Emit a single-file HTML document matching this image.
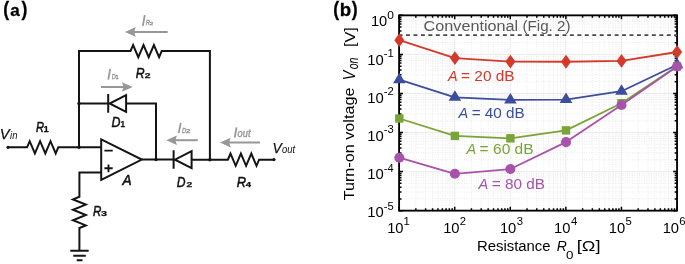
<!DOCTYPE html>
<html><head><meta charset="utf-8"><style>
html,body{margin:0;padding:0;background:#fff;}
svg{display:block;will-change:transform;}
text{font-family:"Liberation Sans",sans-serif;}
.gm{stroke:#e3e3e3;stroke-width:0.8;stroke-dasharray:0.9 1.5;}
.gM{stroke:#ebebeb;stroke-width:1;}
</style></head><body>
<svg width="685" height="264" viewBox="0 0 685 264">
<line x1="415.83" y1="15.35" x2="415.83" y2="210.65" class="gm"/>
<line x1="425.62" y1="15.35" x2="425.62" y2="210.65" class="gm"/>
<line x1="432.57" y1="15.35" x2="432.57" y2="210.65" class="gm"/>
<line x1="437.96" y1="15.35" x2="437.96" y2="210.65" class="gm"/>
<line x1="442.36" y1="15.35" x2="442.36" y2="210.65" class="gm"/>
<line x1="446.08" y1="15.35" x2="446.08" y2="210.65" class="gm"/>
<line x1="449.30" y1="15.35" x2="449.30" y2="210.65" class="gm"/>
<line x1="452.15" y1="15.35" x2="452.15" y2="210.65" class="gm"/>
<line x1="471.42" y1="15.35" x2="471.42" y2="210.65" class="gm"/>
<line x1="481.21" y1="15.35" x2="481.21" y2="210.65" class="gm"/>
<line x1="488.16" y1="15.35" x2="488.16" y2="210.65" class="gm"/>
<line x1="493.55" y1="15.35" x2="493.55" y2="210.65" class="gm"/>
<line x1="497.95" y1="15.35" x2="497.95" y2="210.65" class="gm"/>
<line x1="501.67" y1="15.35" x2="501.67" y2="210.65" class="gm"/>
<line x1="504.89" y1="15.35" x2="504.89" y2="210.65" class="gm"/>
<line x1="507.74" y1="15.35" x2="507.74" y2="210.65" class="gm"/>
<line x1="527.01" y1="15.35" x2="527.01" y2="210.65" class="gm"/>
<line x1="536.80" y1="15.35" x2="536.80" y2="210.65" class="gm"/>
<line x1="543.75" y1="15.35" x2="543.75" y2="210.65" class="gm"/>
<line x1="549.14" y1="15.35" x2="549.14" y2="210.65" class="gm"/>
<line x1="553.54" y1="15.35" x2="553.54" y2="210.65" class="gm"/>
<line x1="557.26" y1="15.35" x2="557.26" y2="210.65" class="gm"/>
<line x1="560.48" y1="15.35" x2="560.48" y2="210.65" class="gm"/>
<line x1="563.33" y1="15.35" x2="563.33" y2="210.65" class="gm"/>
<line x1="582.60" y1="15.35" x2="582.60" y2="210.65" class="gm"/>
<line x1="592.39" y1="15.35" x2="592.39" y2="210.65" class="gm"/>
<line x1="599.34" y1="15.35" x2="599.34" y2="210.65" class="gm"/>
<line x1="604.73" y1="15.35" x2="604.73" y2="210.65" class="gm"/>
<line x1="609.13" y1="15.35" x2="609.13" y2="210.65" class="gm"/>
<line x1="612.85" y1="15.35" x2="612.85" y2="210.65" class="gm"/>
<line x1="616.07" y1="15.35" x2="616.07" y2="210.65" class="gm"/>
<line x1="618.92" y1="15.35" x2="618.92" y2="210.65" class="gm"/>
<line x1="638.19" y1="15.35" x2="638.19" y2="210.65" class="gm"/>
<line x1="647.98" y1="15.35" x2="647.98" y2="210.65" class="gm"/>
<line x1="654.93" y1="15.35" x2="654.93" y2="210.65" class="gm"/>
<line x1="660.32" y1="15.35" x2="660.32" y2="210.65" class="gm"/>
<line x1="664.72" y1="15.35" x2="664.72" y2="210.65" class="gm"/>
<line x1="668.44" y1="15.35" x2="668.44" y2="210.65" class="gm"/>
<line x1="671.66" y1="15.35" x2="671.66" y2="210.65" class="gm"/>
<line x1="674.51" y1="15.35" x2="674.51" y2="210.65" class="gm"/>
<line x1="399.1" y1="42.65" x2="677.05" y2="42.65" class="gm"/>
<line x1="399.1" y1="35.77" x2="677.05" y2="35.77" class="gm"/>
<line x1="399.1" y1="30.89" x2="677.05" y2="30.89" class="gm"/>
<line x1="399.1" y1="27.11" x2="677.05" y2="27.11" class="gm"/>
<line x1="399.1" y1="24.02" x2="677.05" y2="24.02" class="gm"/>
<line x1="399.1" y1="21.40" x2="677.05" y2="21.40" class="gm"/>
<line x1="399.1" y1="19.14" x2="677.05" y2="19.14" class="gm"/>
<line x1="399.1" y1="17.14" x2="677.05" y2="17.14" class="gm"/>
<line x1="399.1" y1="81.71" x2="677.05" y2="81.71" class="gm"/>
<line x1="399.1" y1="74.83" x2="677.05" y2="74.83" class="gm"/>
<line x1="399.1" y1="69.95" x2="677.05" y2="69.95" class="gm"/>
<line x1="399.1" y1="66.17" x2="677.05" y2="66.17" class="gm"/>
<line x1="399.1" y1="63.08" x2="677.05" y2="63.08" class="gm"/>
<line x1="399.1" y1="60.46" x2="677.05" y2="60.46" class="gm"/>
<line x1="399.1" y1="58.20" x2="677.05" y2="58.20" class="gm"/>
<line x1="399.1" y1="56.20" x2="677.05" y2="56.20" class="gm"/>
<line x1="399.1" y1="120.77" x2="677.05" y2="120.77" class="gm"/>
<line x1="399.1" y1="113.89" x2="677.05" y2="113.89" class="gm"/>
<line x1="399.1" y1="109.01" x2="677.05" y2="109.01" class="gm"/>
<line x1="399.1" y1="105.23" x2="677.05" y2="105.23" class="gm"/>
<line x1="399.1" y1="102.14" x2="677.05" y2="102.14" class="gm"/>
<line x1="399.1" y1="99.52" x2="677.05" y2="99.52" class="gm"/>
<line x1="399.1" y1="97.26" x2="677.05" y2="97.26" class="gm"/>
<line x1="399.1" y1="95.26" x2="677.05" y2="95.26" class="gm"/>
<line x1="399.1" y1="159.83" x2="677.05" y2="159.83" class="gm"/>
<line x1="399.1" y1="152.95" x2="677.05" y2="152.95" class="gm"/>
<line x1="399.1" y1="148.07" x2="677.05" y2="148.07" class="gm"/>
<line x1="399.1" y1="144.29" x2="677.05" y2="144.29" class="gm"/>
<line x1="399.1" y1="141.20" x2="677.05" y2="141.20" class="gm"/>
<line x1="399.1" y1="138.58" x2="677.05" y2="138.58" class="gm"/>
<line x1="399.1" y1="136.32" x2="677.05" y2="136.32" class="gm"/>
<line x1="399.1" y1="134.32" x2="677.05" y2="134.32" class="gm"/>
<line x1="399.1" y1="198.89" x2="677.05" y2="198.89" class="gm"/>
<line x1="399.1" y1="192.01" x2="677.05" y2="192.01" class="gm"/>
<line x1="399.1" y1="187.13" x2="677.05" y2="187.13" class="gm"/>
<line x1="399.1" y1="183.35" x2="677.05" y2="183.35" class="gm"/>
<line x1="399.1" y1="180.26" x2="677.05" y2="180.26" class="gm"/>
<line x1="399.1" y1="177.64" x2="677.05" y2="177.64" class="gm"/>
<line x1="399.1" y1="175.38" x2="677.05" y2="175.38" class="gm"/>
<line x1="399.1" y1="173.38" x2="677.05" y2="173.38" class="gm"/>
<line x1="454.69" y1="15.35" x2="454.69" y2="210.65" class="gM"/>
<line x1="510.28" y1="15.35" x2="510.28" y2="210.65" class="gM"/>
<line x1="565.87" y1="15.35" x2="565.87" y2="210.65" class="gM"/>
<line x1="621.46" y1="15.35" x2="621.46" y2="210.65" class="gM"/>
<line x1="399.1" y1="54.41" x2="677.05" y2="54.41" class="gM"/>
<line x1="399.1" y1="93.47" x2="677.05" y2="93.47" class="gM"/>
<line x1="399.1" y1="132.53" x2="677.05" y2="132.53" class="gM"/>
<line x1="399.1" y1="171.59" x2="677.05" y2="171.59" class="gM"/>
<path d="M399.10,210.65v-3.9M399.10,15.35v3.9M415.83,210.65v-2.4M415.83,15.35v2.4M425.62,210.65v-2.4M425.62,15.35v2.4M432.57,210.65v-2.4M432.57,15.35v2.4M437.96,210.65v-2.4M437.96,15.35v2.4M442.36,210.65v-2.4M442.36,15.35v2.4M446.08,210.65v-2.4M446.08,15.35v2.4M449.30,210.65v-2.4M449.30,15.35v2.4M452.15,210.65v-2.4M452.15,15.35v2.4M454.69,210.65v-3.9M454.69,15.35v3.9M471.42,210.65v-2.4M471.42,15.35v2.4M481.21,210.65v-2.4M481.21,15.35v2.4M488.16,210.65v-2.4M488.16,15.35v2.4M493.55,210.65v-2.4M493.55,15.35v2.4M497.95,210.65v-2.4M497.95,15.35v2.4M501.67,210.65v-2.4M501.67,15.35v2.4M504.89,210.65v-2.4M504.89,15.35v2.4M507.74,210.65v-2.4M507.74,15.35v2.4M510.28,210.65v-3.9M510.28,15.35v3.9M527.01,210.65v-2.4M527.01,15.35v2.4M536.80,210.65v-2.4M536.80,15.35v2.4M543.75,210.65v-2.4M543.75,15.35v2.4M549.14,210.65v-2.4M549.14,15.35v2.4M553.54,210.65v-2.4M553.54,15.35v2.4M557.26,210.65v-2.4M557.26,15.35v2.4M560.48,210.65v-2.4M560.48,15.35v2.4M563.33,210.65v-2.4M563.33,15.35v2.4M565.87,210.65v-3.9M565.87,15.35v3.9M582.60,210.65v-2.4M582.60,15.35v2.4M592.39,210.65v-2.4M592.39,15.35v2.4M599.34,210.65v-2.4M599.34,15.35v2.4M604.73,210.65v-2.4M604.73,15.35v2.4M609.13,210.65v-2.4M609.13,15.35v2.4M612.85,210.65v-2.4M612.85,15.35v2.4M616.07,210.65v-2.4M616.07,15.35v2.4M618.92,210.65v-2.4M618.92,15.35v2.4M621.46,210.65v-3.9M621.46,15.35v3.9M638.19,210.65v-2.4M638.19,15.35v2.4M647.98,210.65v-2.4M647.98,15.35v2.4M654.93,210.65v-2.4M654.93,15.35v2.4M660.32,210.65v-2.4M660.32,15.35v2.4M664.72,210.65v-2.4M664.72,15.35v2.4M668.44,210.65v-2.4M668.44,15.35v2.4M671.66,210.65v-2.4M671.66,15.35v2.4M674.51,210.65v-2.4M674.51,15.35v2.4M677.05,210.65v-3.9M677.05,15.35v3.9M399.1,210.65h3.9M677.05,210.65h-3.9M399.1,198.89h2.4M677.05,198.89h-2.4M399.1,192.01h2.4M677.05,192.01h-2.4M399.1,187.13h2.4M677.05,187.13h-2.4M399.1,183.35h2.4M677.05,183.35h-2.4M399.1,180.26h2.4M677.05,180.26h-2.4M399.1,177.64h2.4M677.05,177.64h-2.4M399.1,175.38h2.4M677.05,175.38h-2.4M399.1,173.38h2.4M677.05,173.38h-2.4M399.1,171.59h3.9M677.05,171.59h-3.9M399.1,159.83h2.4M677.05,159.83h-2.4M399.1,152.95h2.4M677.05,152.95h-2.4M399.1,148.07h2.4M677.05,148.07h-2.4M399.1,144.29h2.4M677.05,144.29h-2.4M399.1,141.20h2.4M677.05,141.20h-2.4M399.1,138.58h2.4M677.05,138.58h-2.4M399.1,136.32h2.4M677.05,136.32h-2.4M399.1,134.32h2.4M677.05,134.32h-2.4M399.1,132.53h3.9M677.05,132.53h-3.9M399.1,120.77h2.4M677.05,120.77h-2.4M399.1,113.89h2.4M677.05,113.89h-2.4M399.1,109.01h2.4M677.05,109.01h-2.4M399.1,105.23h2.4M677.05,105.23h-2.4M399.1,102.14h2.4M677.05,102.14h-2.4M399.1,99.52h2.4M677.05,99.52h-2.4M399.1,97.26h2.4M677.05,97.26h-2.4M399.1,95.26h2.4M677.05,95.26h-2.4M399.1,93.47h3.9M677.05,93.47h-3.9M399.1,81.71h2.4M677.05,81.71h-2.4M399.1,74.83h2.4M677.05,74.83h-2.4M399.1,69.95h2.4M677.05,69.95h-2.4M399.1,66.17h2.4M677.05,66.17h-2.4M399.1,63.08h2.4M677.05,63.08h-2.4M399.1,60.46h2.4M677.05,60.46h-2.4M399.1,58.20h2.4M677.05,58.20h-2.4M399.1,56.20h2.4M677.05,56.20h-2.4M399.1,54.41h3.9M677.05,54.41h-3.9M399.1,42.65h2.4M677.05,42.65h-2.4M399.1,35.77h2.4M677.05,35.77h-2.4M399.1,30.89h2.4M677.05,30.89h-2.4M399.1,27.11h2.4M677.05,27.11h-2.4M399.1,24.02h2.4M677.05,24.02h-2.4M399.1,21.40h2.4M677.05,21.40h-2.4M399.1,19.14h2.4M677.05,19.14h-2.4M399.1,17.14h2.4M677.05,17.14h-2.4M399.1,15.35h3.9M677.05,15.35h-3.9" stroke="#000" stroke-width="1.5" fill="none"/>
<rect x="399.1" y="15.35" width="277.95" height="195.30" fill="none" stroke="#000" stroke-width="1.85"/>
<line x1="399.1" y1="35.1" x2="677.05" y2="35.1" stroke="#4a4a4a" stroke-width="1.7" stroke-dasharray="3.9 3.55" stroke-dashoffset="0.5"/>
<polyline points="399.30,40.20 454.90,58.10 510.40,61.60 566.00,61.75 621.50,60.90 677.10,52.00" fill="none" stroke="#d5392a" stroke-width="1.8" stroke-linejoin="round"/>
<g fill="#d5392a"><path d="M399.30,33.30L404.30,40.20L399.30,47.10L394.30,40.20Z"/><path d="M454.90,51.20L459.90,58.10L454.90,65.00L449.90,58.10Z"/><path d="M510.40,54.70L515.40,61.60L510.40,68.50L505.40,61.60Z"/><path d="M566.00,54.85L571.00,61.75L566.00,68.65L561.00,61.75Z"/><path d="M621.50,54.00L626.50,60.90L621.50,67.80L616.50,60.90Z"/><path d="M677.10,45.10L682.10,52.00L677.10,58.90L672.10,52.00Z"/></g>
<polyline points="399.30,79.70 454.90,97.30 510.40,99.90 566.00,99.60 621.50,91.20 677.10,64.80" fill="none" stroke="#3b4d9d" stroke-width="1.8" stroke-linejoin="round"/>
<g fill="#3b4d9d"><path d="M399.30,72.70L405.60,83.20L393.00,83.20Z"/><path d="M454.90,90.30L461.20,100.80L448.60,100.80Z"/><path d="M510.40,92.90L516.70,103.40L504.10,103.40Z"/><path d="M566.00,92.60L572.30,103.10L559.70,103.10Z"/><path d="M621.50,84.20L627.80,94.70L615.20,94.70Z"/><path d="M677.10,57.80L683.40,68.30L670.80,68.30Z"/></g>
<polyline points="399.30,118.50 454.90,135.90 510.40,138.30 566.00,130.40 621.50,103.20 677.10,66.30" fill="none" stroke="#79a437" stroke-width="1.8" stroke-linejoin="round"/>
<g fill="#79a437"><rect x="395.10" y="114.30" width="8.4" height="8.4"/><rect x="450.70" y="131.70" width="8.4" height="8.4"/><rect x="506.20" y="134.10" width="8.4" height="8.4"/><rect x="561.80" y="126.20" width="8.4" height="8.4"/><rect x="617.30" y="99.00" width="8.4" height="8.4"/><rect x="672.90" y="62.10" width="8.4" height="8.4"/></g>
<polyline points="399.30,157.70 454.90,173.80 510.40,169.00 566.00,142.10 621.50,105.00 677.10,66.50" fill="none" stroke="#a952ac" stroke-width="1.8" stroke-linejoin="round"/>
<g fill="#a952ac"><circle cx="399.30" cy="157.70" r="5.05"/><circle cx="454.90" cy="173.80" r="5.05"/><circle cx="510.40" cy="169.00" r="5.05"/><circle cx="566.00" cy="142.10" r="5.05"/><circle cx="621.50" cy="105.00" r="5.05"/><circle cx="677.10" cy="66.50" r="5.05"/></g>
<text x="447.91" y="81.10" font-size="15.41" font-style="italic" textLength="9.66" lengthAdjust="spacingAndGlyphs" fill="#d5392a" xml:space="preserve">A</text><text x="461.05" y="80.95" font-size="15.41" textLength="53.57" lengthAdjust="spacingAndGlyphs" fill="#d5392a" xml:space="preserve">= 20 dB</text>
<text x="458.51" y="117.80" font-size="15.41" font-style="italic" textLength="9.66" lengthAdjust="spacingAndGlyphs" fill="#3b4d9d" xml:space="preserve">A</text><text x="471.65" y="117.65" font-size="15.41" textLength="53.15" lengthAdjust="spacingAndGlyphs" fill="#3b4d9d" xml:space="preserve">= 40 dB</text>
<text x="466.51" y="154.20" font-size="15.41" font-style="italic" textLength="9.66" lengthAdjust="spacingAndGlyphs" fill="#79a437" xml:space="preserve">A</text><text x="479.64" y="154.05" font-size="15.41" textLength="53.98" lengthAdjust="spacingAndGlyphs" fill="#79a437" xml:space="preserve">= 60 dB</text>
<text x="478.61" y="189.00" font-size="15.41" font-style="italic" textLength="9.66" lengthAdjust="spacingAndGlyphs" fill="#a952ac" xml:space="preserve">A</text><text x="491.75" y="188.85" font-size="15.41" textLength="53.26" lengthAdjust="spacingAndGlyphs" fill="#a952ac" xml:space="preserve">= 80 dB</text>
<text x="370.88" y="26.46" font-size="14.70" textLength="16.29" lengthAdjust="spacingAndGlyphs" fill="#000" xml:space="preserve">10</text>
<text x="387.23" y="18.79" font-size="11.30" textLength="6.63" lengthAdjust="spacingAndGlyphs" fill="#000" xml:space="preserve">0</text>
<text x="367.17" y="64.66" font-size="14.70" textLength="16.51" lengthAdjust="spacingAndGlyphs" fill="#000" xml:space="preserve">10</text>
<text x="383.70" y="57.10" font-size="11.30" textLength="10.05" lengthAdjust="spacingAndGlyphs" fill="#000" xml:space="preserve">-1</text>
<text x="367.17" y="102.86" font-size="14.70" textLength="16.51" lengthAdjust="spacingAndGlyphs" fill="#000" xml:space="preserve">10</text>
<text x="383.70" y="95.30" font-size="11.30" textLength="10.07" lengthAdjust="spacingAndGlyphs" fill="#000" xml:space="preserve">-2</text>
<text x="367.17" y="141.06" font-size="14.70" textLength="16.51" lengthAdjust="spacingAndGlyphs" fill="#000" xml:space="preserve">10</text>
<text x="383.70" y="133.39" font-size="11.30" textLength="9.99" lengthAdjust="spacingAndGlyphs" fill="#000" xml:space="preserve">-3</text>
<text x="367.17" y="179.26" font-size="14.70" textLength="16.51" lengthAdjust="spacingAndGlyphs" fill="#000" xml:space="preserve">10</text>
<text x="383.71" y="171.70" font-size="11.30" textLength="9.81" lengthAdjust="spacingAndGlyphs" fill="#000" xml:space="preserve">-4</text>
<text x="367.17" y="217.46" font-size="14.70" textLength="16.51" lengthAdjust="spacingAndGlyphs" fill="#000" xml:space="preserve">10</text>
<text x="383.70" y="209.79" font-size="11.30" textLength="9.97" lengthAdjust="spacingAndGlyphs" fill="#000" xml:space="preserve">-5</text>
<text x="387.18" y="232.66" font-size="14.70" textLength="16.40" lengthAdjust="spacingAndGlyphs" fill="#000" xml:space="preserve">10</text>
<text x="403.54" y="224.80" font-size="11.30" fill="#000" xml:space="preserve">1</text>
<text x="443.18" y="232.66" font-size="14.70" textLength="16.40" lengthAdjust="spacingAndGlyphs" fill="#000" xml:space="preserve">10</text>
<text x="459.83" y="224.80" font-size="11.30" fill="#000" xml:space="preserve">2</text>
<text x="499.88" y="232.66" font-size="14.70" textLength="16.40" lengthAdjust="spacingAndGlyphs" fill="#000" xml:space="preserve">10</text>
<text x="516.67" y="224.69" font-size="11.30" fill="#000" xml:space="preserve">3</text>
<text x="554.08" y="232.66" font-size="14.70" textLength="16.40" lengthAdjust="spacingAndGlyphs" fill="#000" xml:space="preserve">10</text>
<text x="571.04" y="224.80" font-size="11.30" fill="#000" xml:space="preserve">4</text>
<text x="608.78" y="232.66" font-size="14.70" textLength="16.40" lengthAdjust="spacingAndGlyphs" fill="#000" xml:space="preserve">10</text>
<text x="625.55" y="224.69" font-size="11.30" fill="#000" xml:space="preserve">5</text>
<text x="662.68" y="232.66" font-size="14.70" textLength="16.40" lengthAdjust="spacingAndGlyphs" fill="#000" xml:space="preserve">10</text>
<text x="679.33" y="224.69" font-size="11.30" fill="#000" xml:space="preserve">6</text>
<text x="476.98" y="250.75" font-size="15.50" textLength="73.58" lengthAdjust="spacingAndGlyphs" fill="#000" xml:space="preserve">Resistance</text>
<text x="556.67" y="250.90" font-size="15.50" font-style="italic" textLength="10.06" lengthAdjust="spacingAndGlyphs" fill="#000" xml:space="preserve">R</text>
<text x="566.08" y="258.79" font-size="11.30" textLength="7.45" lengthAdjust="spacingAndGlyphs" fill="#000" xml:space="preserve">0</text>
<text x="576.70" y="250.51" font-size="15.50" textLength="23.80" lengthAdjust="spacingAndGlyphs" fill="#000" xml:space="preserve">[Ω]</text>
<text transform="translate(354.40,200.36) rotate(-90)" font-size="15.1" textLength="112.78" lengthAdjust="spacingAndGlyphs" fill="#000">Turn-on voltage</text>
<text transform="translate(354.60,80.33) rotate(-90)" font-size="15.6" font-style="italic" textLength="9.53" lengthAdjust="spacingAndGlyphs" fill="#000">V</text>
<text transform="translate(358.00,69.35) rotate(-90)" font-size="13.8" font-style="italic" textLength="11.83" lengthAdjust="spacingAndGlyphs" fill="#000">on</text>
<text transform="translate(354.60,47.06) rotate(-90)" font-size="15.1" textLength="19.81" lengthAdjust="spacingAndGlyphs" fill="#000">[V]</text>
<text x="333.22" y="16.15" font-size="19.53" font-weight="bold" textLength="5.90" lengthAdjust="spacingAndGlyphs" fill="#000" stroke="#000" stroke-width="0.3" xml:space="preserve">(</text><text x="339.87" y="16.22" font-size="18.66" font-weight="bold" textLength="11.39" lengthAdjust="spacingAndGlyphs" fill="#000" stroke="#000" stroke-width="0.3" xml:space="preserve">b</text><text x="351.78" y="16.15" font-size="19.53" font-weight="bold" textLength="5.90" lengthAdjust="spacingAndGlyphs" fill="#000" stroke="#000" stroke-width="0.3" xml:space="preserve">)</text>
<text x="423.58" y="31.40" font-size="15.10" textLength="94.61" lengthAdjust="spacingAndGlyphs" fill="#595959" xml:space="preserve">Conventional</text>
<text x="522.46" y="31.40" font-size="15.10" textLength="48.08" lengthAdjust="spacingAndGlyphs" fill="#595959" xml:space="preserve">(Fig. 2)</text>
<path d="M79,147.3V51.1H130.5L130.50,51.10L133.10,45.00L138.30,57.20L143.50,45.00L148.70,57.20L153.90,45.00L159.10,57.20L161.70,51.10H209.9V159.7 M79,103.5H108.2M126.2,103.5H156V159.7 M8,147.3H27.1L27.10,147.30L29.70,141.20L34.90,153.40L40.10,141.20L45.30,153.40L50.50,141.20L55.70,153.40L58.30,147.30H101.2 M101.2,172.6H79.4V196.8L79.40,196.80L73.00,199.40L85.80,204.60L73.00,209.80L85.80,215.00L73.00,220.20L85.80,225.40L79.40,228.00V250.8 M141.8,159.6H173.6M191.8,159.7H227.9L227.90,159.70L230.50,153.60L235.70,165.80L240.90,153.60L246.10,165.80L251.30,153.60L256.50,165.80L259.10,159.70H274" fill="none" stroke="#141414" stroke-width="2" stroke-linejoin="miter"/>
<path d="M70.3,250.8H88.7M73.3,255.8H85.8M76.7,260.3H82.5" stroke="#141414" stroke-width="2"/>
<path d="M108.2,94V112.8M126.1,95.1V111.9L109.6,103.5Z" fill="#fff" stroke="#141414" stroke-width="2" stroke-linejoin="miter"/>
<path d="M173.6,150.3V168.8M191.6,151.2V168.1L175,159.7Z" fill="#fff" stroke="#141414" stroke-width="2" stroke-linejoin="miter"/>
<path d="M101.2,139.4L141.8,159.6L101.2,179.9Z" fill="#fff" stroke="#141414" stroke-width="2" stroke-linejoin="miter"/>
<path d="M104.4,150.6H112.7M104.4,168.3H112.7M108.5,164.4V172.3" stroke="#141414" stroke-width="1.9"/>
<g fill="#141414"><circle cx="79" cy="103.5" r="1.7"/><circle cx="79" cy="147.3" r="1.7"/><circle cx="156" cy="159.6" r="1.7"/><circle cx="209.9" cy="159.7" r="1.7"/><circle cx="8" cy="147.3" r="1.6"/><circle cx="274" cy="159.6" r="1.6"/></g>
<path d="M167.7,31.9H129.8" stroke="#969896" stroke-width="2.0" fill="none"/><path d="M125.0,31.9L135.7,27.099999999999998L134.2,31.9L135.7,36.699999999999996Z" fill="#969896"/>
<path d="M101,87.0H127.9" stroke="#969896" stroke-width="2.0" fill="none"/><path d="M132.70000000000002,87.0L122.0,82.2L123.5,87.0L122.0,91.8Z" fill="#969896"/>
<path d="M197.8,140.2H171" stroke="#969896" stroke-width="2.0" fill="none"/><path d="M166.2,140.2L176.9,135.39999999999998L175.4,140.2L176.9,145.0Z" fill="#969896"/>
<path d="M260,142.6H224.8" stroke="#969896" stroke-width="2.0" fill="none"/><path d="M220.0,142.6L230.70000000000002,137.79999999999998L229.20000000000002,142.6L230.70000000000002,147.4Z" fill="#969896"/>
<line x1="142.9" y1="25.9" x2="144.75" y2="15.2" stroke="#969896" stroke-width="1.75"/>
<text x="145.72" y="25.00" font-size="7.41" font-style="italic" textLength="4.26" lengthAdjust="spacingAndGlyphs" fill="#969896" stroke="#969896" stroke-width="0.4" xml:space="preserve">R</text>
<text x="149.80" y="25.00" font-size="4.30" textLength="3.30" lengthAdjust="spacingAndGlyphs" fill="#969896" stroke="#969896" stroke-width="0.4" xml:space="preserve">2</text>
<line x1="108.3" y1="79.6" x2="110.2" y2="68.9" stroke="#969896" stroke-width="1.75"/>
<text x="111.73" y="78.70" font-size="7.41" font-style="italic" textLength="3.94" lengthAdjust="spacingAndGlyphs" fill="#969896" stroke="#969896" stroke-width="0.4" xml:space="preserve">D</text>
<text x="115.48" y="78.70" font-size="5.23" textLength="3.10" lengthAdjust="spacingAndGlyphs" fill="#969896" stroke="#969896" stroke-width="0.4" xml:space="preserve">1</text>
<line x1="178.7" y1="133.1" x2="180.75" y2="122.9" stroke="#969896" stroke-width="1.75"/>
<text x="182.02" y="132.70" font-size="7.85" font-style="italic" textLength="4.27" lengthAdjust="spacingAndGlyphs" fill="#969896" stroke="#969896" stroke-width="0.4" xml:space="preserve">D</text>
<text x="186.01" y="132.70" font-size="5.16" textLength="4.27" lengthAdjust="spacingAndGlyphs" fill="#969896" stroke="#969896" stroke-width="0.4" xml:space="preserve">2</text>
<line x1="234.7" y1="137.5" x2="236.55" y2="127.4" stroke="#969896" stroke-width="1.75"/>
<text x="237.60" y="137.19" font-size="10.97" font-style="italic" textLength="12.88" lengthAdjust="spacingAndGlyphs" fill="#969896" stroke="#969896" stroke-width="0.4" xml:space="preserve">out</text>
<text x="36.06" y="131.50" font-size="15.50" font-style="italic" textLength="8.03" lengthAdjust="spacingAndGlyphs" fill="#111111" stroke="#111" stroke-width="0.55" xml:space="preserve">R</text><text x="43.60" y="131.50" font-size="8.29" font-weight="bold" textLength="5.26" lengthAdjust="spacingAndGlyphs" fill="#111111" stroke="#111" stroke-width="0.25" xml:space="preserve">1</text>
<text x="135.72" y="77.80" font-size="15.50" font-style="italic" textLength="8.85" lengthAdjust="spacingAndGlyphs" fill="#111111" stroke="#111" stroke-width="0.55" xml:space="preserve">R</text><text x="144.74" y="77.80" font-size="6.59" font-weight="bold" textLength="5.78" lengthAdjust="spacingAndGlyphs" fill="#111111" stroke="#111" stroke-width="0.25" xml:space="preserve">2</text>
<text x="93.05" y="216.25" font-size="15.50" font-style="italic" textLength="8.31" lengthAdjust="spacingAndGlyphs" fill="#111111" stroke="#111" stroke-width="0.55" xml:space="preserve">R</text><text x="100.95" y="216.16" font-size="7.96" font-weight="bold" textLength="6.04" lengthAdjust="spacingAndGlyphs" fill="#111111" stroke="#111" stroke-width="0.25" xml:space="preserve">3</text>
<text x="236.70" y="186.80" font-size="15.50" font-style="italic" textLength="9.29" lengthAdjust="spacingAndGlyphs" fill="#111111" stroke="#111" stroke-width="0.55" xml:space="preserve">R</text><text x="245.76" y="186.80" font-size="7.70" font-weight="bold" textLength="5.30" lengthAdjust="spacingAndGlyphs" fill="#111111" stroke="#111" stroke-width="0.25" xml:space="preserve">4</text>
<text x="111.42" y="126.80" font-size="15.50" font-style="italic" textLength="8.98" lengthAdjust="spacingAndGlyphs" fill="#111111" stroke="#111" stroke-width="0.55" xml:space="preserve">D</text><text x="120.49" y="126.80" font-size="8.14" font-weight="bold" textLength="4.54" lengthAdjust="spacingAndGlyphs" fill="#111111" stroke="#111" stroke-width="0.25" xml:space="preserve">1</text>
<text x="176.73" y="186.80" font-size="15.50" font-style="italic" textLength="8.76" lengthAdjust="spacingAndGlyphs" fill="#111111" stroke="#111" stroke-width="0.55" xml:space="preserve">D</text><text x="186.64" y="186.80" font-size="7.16" font-weight="bold" textLength="5.78" lengthAdjust="spacingAndGlyphs" fill="#111111" stroke="#111" stroke-width="0.25" xml:space="preserve">2</text>
<text x="122.38" y="185.00" font-size="15.20" font-style="italic" textLength="9.16" lengthAdjust="spacingAndGlyphs" fill="#111111" stroke="#111" stroke-width="0.55" xml:space="preserve">A</text>
<text x="-0.17" y="139.40" font-size="15.50" font-style="italic" textLength="9.83" lengthAdjust="spacingAndGlyphs" fill="#111111" stroke="#111" stroke-width="0.25" xml:space="preserve">V</text>
<text x="10.05" y="139.40" font-size="10.21" font-style="italic" textLength="7.38" lengthAdjust="spacingAndGlyphs" fill="#111111" xml:space="preserve">in</text>
<text x="272.41" y="153.00" font-size="15.50" font-style="italic" textLength="9.22" lengthAdjust="spacingAndGlyphs" fill="#111111" stroke="#111" stroke-width="0.25" xml:space="preserve">V</text>
<text x="282.09" y="153.40" font-size="10.36" font-style="italic" textLength="13.18" lengthAdjust="spacingAndGlyphs" fill="#111111" xml:space="preserve">out</text>
<text x="3.22" y="16.15" font-size="19.53" font-weight="bold" textLength="5.90" lengthAdjust="spacingAndGlyphs" fill="#000" stroke="#000" stroke-width="0.3" xml:space="preserve">(</text><text x="10.20" y="16.04" font-size="16.25" font-weight="bold" textLength="9.49" lengthAdjust="spacingAndGlyphs" fill="#000" stroke="#000" stroke-width="0.3" xml:space="preserve">a</text><text x="21.38" y="16.15" font-size="19.53" font-weight="bold" textLength="5.90" lengthAdjust="spacingAndGlyphs" fill="#000" stroke="#000" stroke-width="0.3" xml:space="preserve">)</text>
</svg>
</body></html>
